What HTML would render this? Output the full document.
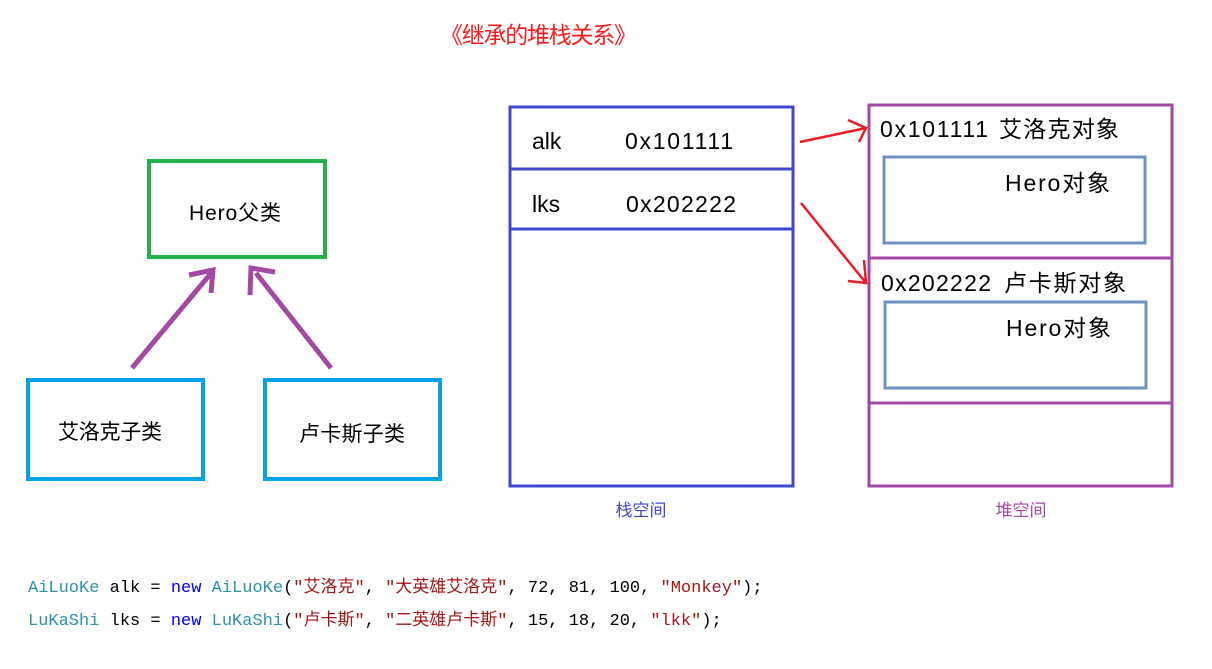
<!DOCTYPE html>
<html><head><meta charset="utf-8"><style>
body{margin:0;background:#fff;width:1212px;height:669px;overflow:hidden;position:relative;font-family:"Liberation Sans","Noto Sans CJK SC",sans-serif}
.code{position:absolute;left:28px;font-family:"Liberation Mono","Noto Sans CJK SC",monospace;font-size:17px;color:#000;white-space:pre}
.t{color:#2b91af}.k{color:#0000ff}.s{color:#a31515}
</style></head><body>
<svg width="1212" height="669" style="position:absolute;left:0;top:0" font-family="Liberation Sans, Noto Sans CJK SC, sans-serif">
<text x="440" y="43" fill="#ff1a1a" font-size="23" textLength="197">《继承的堆栈关系》</text>
<rect x="149" y="161" width="176" height="96" fill="none" stroke="#22b14c" stroke-width="4"/>
<text x="189" y="220" font-size="21" textLength="92">Hero父类</text>
<rect x="28" y="380" width="175" height="99" fill="none" stroke="#00a2e8" stroke-width="4"/>
<text x="58" y="439" font-size="21" textLength="104">艾洛克子类</text>
<rect x="265" y="380" width="175" height="99" fill="none" stroke="#00a2e8" stroke-width="4"/>
<text x="299" y="441" font-size="21" textLength="106">卢卡斯子类</text>
<g stroke="#a349a4" stroke-width="5" fill="none">
<line x1="132" y1="368" x2="212" y2="272"/><polyline points="189,275 213,270 211,293"/>
<line x1="331" y1="368" x2="256" y2="273"/><polyline points="250,295 251,268 275,272"/>
</g>
<rect x="510" y="107" width="283" height="379" fill="none" stroke="#3f48cc" stroke-width="3"/>
<line x1="510" y1="169" x2="793" y2="169" stroke="#3f48cc" stroke-width="3"/>
<line x1="510" y1="229" x2="793" y2="229" stroke="#3f48cc" stroke-width="3"/>
<text x="532" y="149" font-size="23">alk</text><text x="625" y="149" font-size="23" textLength="108">0x101111</text>
<text x="532" y="212" font-size="23">lks</text><text x="626" y="212" font-size="23" textLength="110">0x202222</text>
<text x="641" y="516" fill="#3f48cc" font-size="17" text-anchor="middle">栈空间</text>
<rect x="869" y="105" width="303" height="381" fill="none" stroke="#a349a4" stroke-width="3"/>
<line x1="869" y1="258" x2="1172" y2="258" stroke="#a349a4" stroke-width="3"/>
<line x1="869" y1="403" x2="1172" y2="403" stroke="#a349a4" stroke-width="3"/>
<text x="880" y="137" font-size="23" textLength="108">0x101111</text>
<text x="999" y="137" font-size="23" textLength="120">艾洛克对象</text>
<rect x="884" y="157" width="261" height="86" fill="none" stroke="#7092be" stroke-width="3"/>
<text x="1005" y="191" font-size="23" textLength="105">Hero对象</text>
<text x="881" y="291" font-size="23" textLength="110">0x202222</text>
<text x="1004" y="291" font-size="23" textLength="122">卢卡斯对象</text>
<rect x="885" y="302" width="261" height="86" fill="none" stroke="#7092be" stroke-width="3"/>
<text x="1006" y="336" font-size="23" textLength="105">Hero对象</text>
<text x="1021" y="516" fill="#a349a4" font-size="17" text-anchor="middle">堆空间</text>
<g stroke="#ed1c24" stroke-width="2.5" fill="none">
<line x1="800" y1="142" x2="866" y2="128"/><polyline points="848,120 866,128 859,142"/>
<line x1="801" y1="203" x2="866" y2="283"/><polyline points="864,260 866,283 848,281"/>
</g>
</svg>
<div class="code" style="top:572px"><span class="t">AiLuoKe</span> alk = <span class="k">new</span> <span class="t">AiLuoKe</span>(<span class="s">"艾洛克"</span>, <span class="s">"大英雄艾洛克"</span>, 72, 81, 100, <span class="s">"Monkey"</span>);</div>
<div class="code" style="top:605px"><span class="t">LuKaShi</span> lks = <span class="k">new</span> <span class="t">LuKaShi</span>(<span class="s">"卢卡斯"</span>, <span class="s">"二英雄卢卡斯"</span>, 15, 18, 20, <span class="s">"lkk"</span>);</div>
</body></html>
